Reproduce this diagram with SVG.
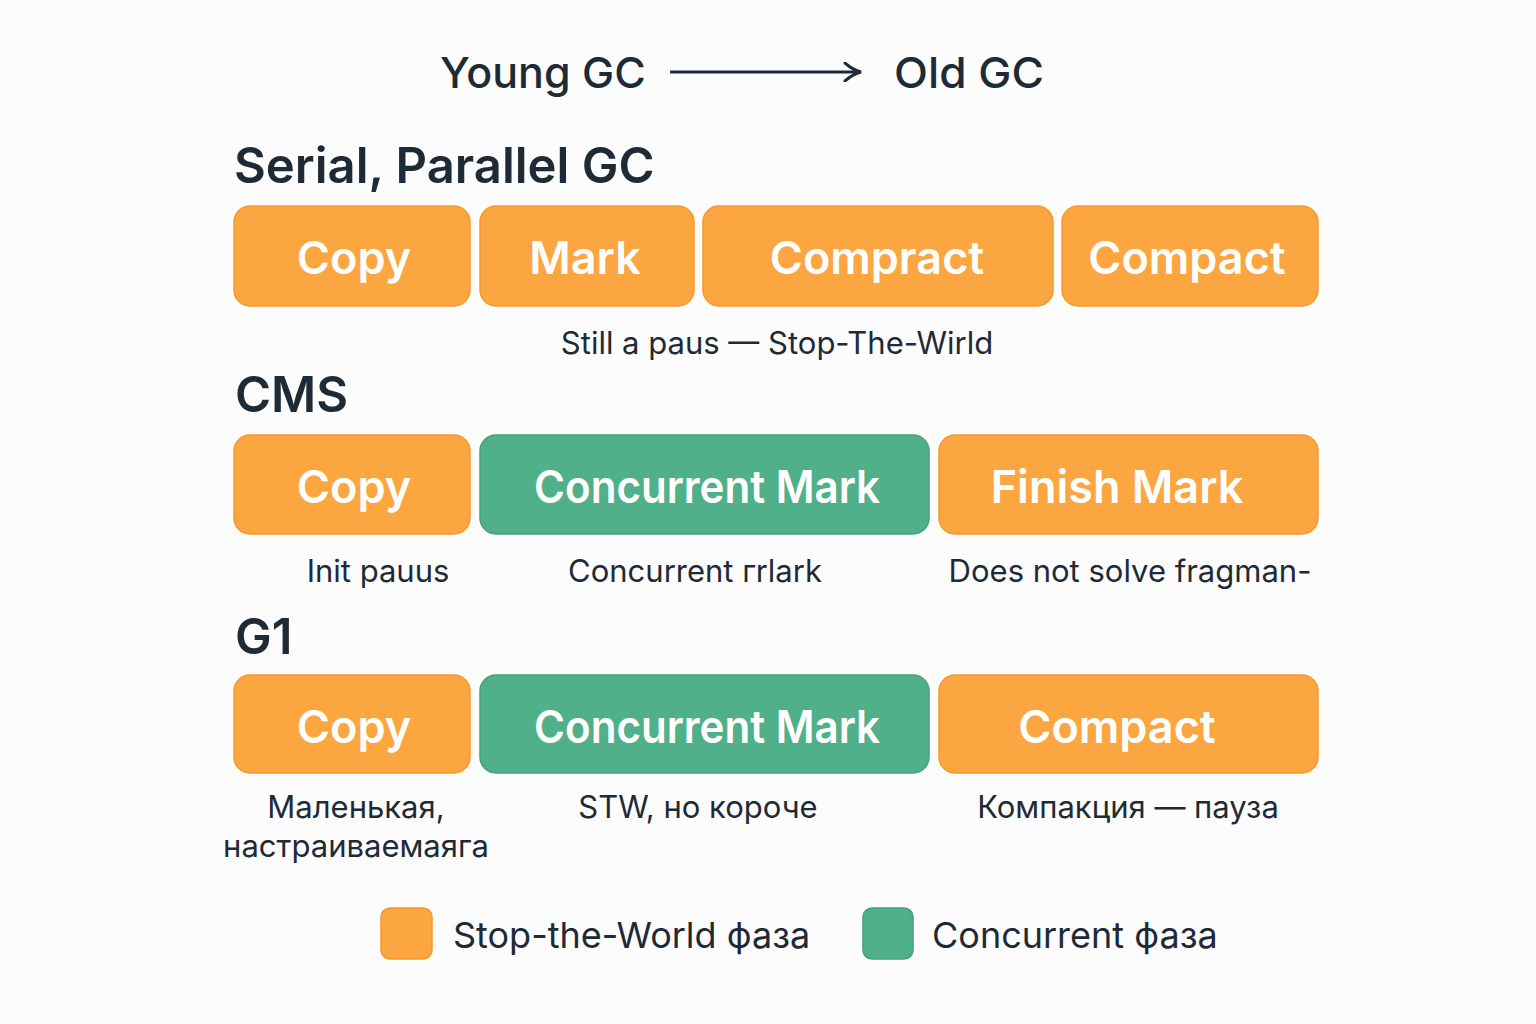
<svg xmlns="http://www.w3.org/2000/svg" width="1536" height="1024" viewBox="0 0 1536 1024">
<defs>
<style>
text{font-family:Inter,"Noto Sans","DejaVu Sans",sans-serif;fill:#1e2a36}
.h{font-size:49px;font-weight:600}
.t{font-size:43px;font-weight:500}
.b{font-size:45px;font-weight:600;fill:#ffffff;text-anchor:middle}
.l{font-size:31px;font-weight:400;text-anchor:middle}
.lg{font-size:36px;font-weight:400}
.stw{fill:#fba640;stroke:#f7982a;stroke-width:1.5}
.con{fill:#4fb08a;stroke:#43a07c;stroke-width:1.5}
</style>
<marker id="ah" viewBox="0 0 20 20" refX="18" refY="10" markerWidth="20" markerHeight="20" markerUnits="userSpaceOnUse" orient="auto">
<path d="M2,1 Q10,8 18,10 Q10,12 2,19" fill="none" stroke="#1e2a36" stroke-width="3" stroke-linecap="round"/>
</marker>
</defs>
<rect width="1536" height="1024" fill="#fcfcfc"/>
<g id="title">
<text class="t" x="440" y="88">Young GC</text>
<text class="t" x="894" y="88" textLength="150" lengthAdjust="spacingAndGlyphs">Old GC</text>
</g>
<g id="connectors">
<line x1="670" y1="72" x2="861" y2="72" stroke="#1e2a36" stroke-width="3" marker-end="url(#ah)"/>
</g>
<g id="serial">
<text class="h" x="234" y="183">Serial, Parallel GC</text>
<g id="s-copy"><rect class="stw" x="234" y="206" width="236" height="100" rx="16"/><text class="b" x="354" y="274">Copy</text></g>
<g id="s-mark"><rect class="stw" x="480" y="206" width="214" height="100" rx="16"/><text class="b" x="585" y="274">Mark</text></g>
<g id="s-compract"><rect class="stw" x="703" y="206" width="350" height="100" rx="16"/><text class="b" x="877" y="274">Compract</text></g>
<g id="s-compact"><rect class="stw" x="1062" y="206" width="256" height="100" rx="16"/><text class="b" x="1187" y="274">Compact</text></g>
<text class="l" x="777" y="354">Still a paus — Stop-The-Wirld</text>
</g>
<g id="cms">
<text class="h" x="235" y="412">CMS</text>
<g id="c-copy"><rect class="stw" x="234" y="435" width="236" height="99" rx="16"/><text class="b" x="354" y="503">Copy</text></g>
<g id="c-cmark"><rect class="con" x="480" y="435" width="449" height="99" rx="16"/><text class="b" x="707" y="503" textLength="346" lengthAdjust="spacingAndGlyphs">Concurrent Mark</text></g>
<g id="c-finish"><rect class="stw" x="939" y="435" width="379" height="99" rx="16"/><text class="b" x="1117" y="503">Finish Mark</text></g>
<text class="l" x="378" y="582">Init pauus</text>
<text class="l" x="695" y="582">Concurrent гrlark</text>
<text class="l" x="1130" y="582">Does not solve fragman-</text>
</g>
<g id="g1">
<text class="h" x="235" y="654">G1</text>
<g id="g-copy"><rect class="stw" x="234" y="675" width="236" height="98" rx="16"/><text class="b" x="354" y="743">Copy</text></g>
<g id="g-cmark"><rect class="con" x="480" y="675" width="449" height="98" rx="16"/><text class="b" x="707" y="743" textLength="346" lengthAdjust="spacingAndGlyphs">Concurrent Mark</text></g>
<g id="g-compact"><rect class="stw" x="939" y="675" width="379" height="98" rx="16"/><text class="b" x="1117" y="743">Compact</text></g>
<text class="l" x="356" y="818">Маленькая,</text>
<text class="l" x="356" y="857">настраиваемаяга</text>
<text class="l" x="698" y="818">STW, но короче</text>
<text class="l" x="1128" y="818">Компакция — пауза</text>
</g>
<g id="legend">
<rect class="stw" x="381" y="908" width="51" height="51" rx="9"/>
<text class="lg" x="453" y="948">Stop-the-World фаза</text>
<rect class="con" x="863" y="908" width="50" height="51" rx="9"/>
<text class="lg" x="932" y="948">Concurrent фаза</text>
</g>
</svg>
